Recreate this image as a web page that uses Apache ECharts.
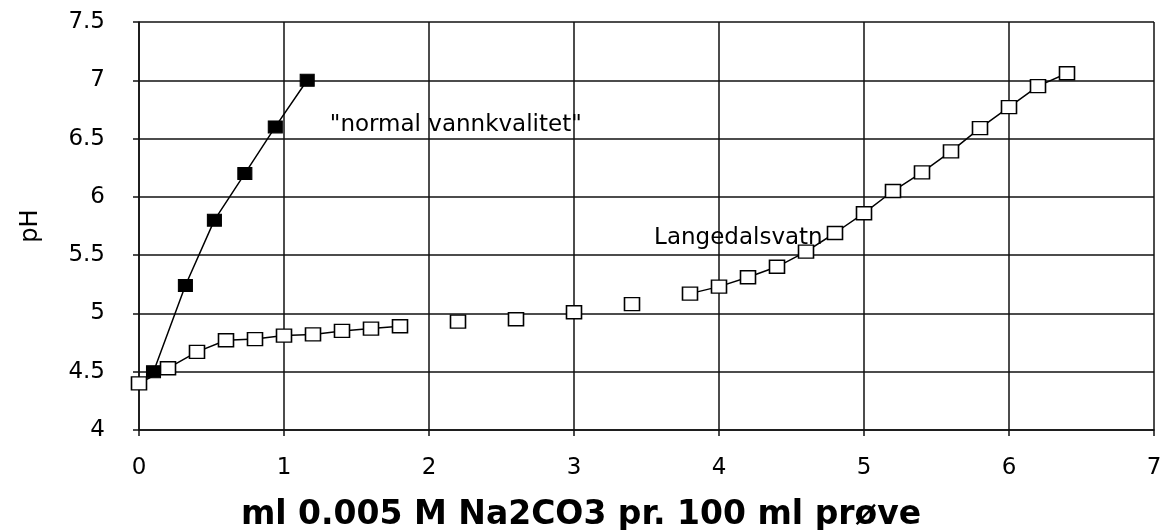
<!DOCTYPE html>
<html>
<head>
<meta charset="utf-8">
<script src="https://cdn.jsdelivr.net/npm/echarts@6/dist/echarts.min.js"></script>
<style>
  html, body { margin: 0; padding: 0; background: #fff; }
  #chart { width: 1162px; height: 530px; }
</style>
</head>
<body>
<div id="chart"></div>
<script>
// Langedalsvatn titration (open squares)
var langX = [0, 0.2, 0.4, 0.6, 0.8, 1.0, 1.2, 1.4, 1.6, 1.8, 2.2, 2.6, 3.0, 3.4, 3.8, 4.0, 4.2, 4.4, 4.6, 4.8, 5.0, 5.2, 5.4, 5.6, 5.8, 6.0, 6.2, 6.4];
var langY = [4.40, 4.53, 4.67, 4.77, 4.78, 4.81, 4.82, 4.85, 4.87, 4.89, 4.93, 4.95, 5.01, 5.08, 5.17, 5.23, 5.31, 5.40, 5.53, 5.69, 5.86, 6.05, 6.21, 6.39, 6.59, 6.77, 6.95, 7.06];
// 1 = joined to the previous point with a line, 0 = no line
var langJoin = [0, 1, 1, 1, 1, 1, 1, 1, 1, 1, 0, 0, 0, 0, 0, 1, 1, 1, 1, 1, 1, 1, 1, 1, 1, 1, 1, 1];

// "normal vannkvalitet" (filled squares)
var normX = [0.1, 0.32, 0.52, 0.73, 0.94, 1.16];
var normY = [4.50, 5.24, 5.80, 6.20, 6.60, 7.00];

var xTicks = [0, 7, 1];
var yTicks = [4, 7.5, 0.5];

var font = "'DejaVu Sans', Arial, sans-serif";

function langData() {
    var out = [];
    for (var i = 0; i < langX.length; i++) {
        if (i > 0 && !langJoin[i]) {
            out.push([(langX[i] + langX[i - 1]) / 2, null]);
        }
        var item = { value: [langX[i], langY[i]] };
        if (langX[i] == 4.8) {
            item.label = {
                show: true, position: 'left', distance: 4, offset: [0, 5],
                formatter: 'Langedalsvatn', color: '#000', fontSize: 23, fontFamily: font
            };
        }
        out.push(item);
    }
    return out;
}

function normData() {
    var out = [];
    for (var i = 0; i < normX.length; i++) {
        var item = { value: [normX[i], normY[i]] };
        if (i == 4) {
            item.label = {
                show: true, position: 'right', distance: 47, offset: [0, -2],
                formatter: '"normal vannkvalitet"', color: '#000', fontSize: 23, fontFamily: font
            };
        }
        out.push(item);
    }
    return out;
}

var gridLine = { show: true, lineStyle: { color: '#111', width: 1.5 } };

var options = {
    backgroundColor: '#fff',
    animation: false,
    title: {
        text: 'ml 0.005 M Na2CO3 pr. 100 ml prøve',
        left: 'center', top: 494,
        textStyle: { color: '#000', fontSize: 33, fontWeight: 'bold', fontFamily: font }
    },
    grid: { left: 139, right: 8, top: 22, bottom: 100, containLabel: false, outerBoundsMode: 'none' },
    xAxis: {
        type: 'value',
        min: xTicks[0], max: xTicks[1], interval: xTicks[2],
        axisLine: { show: true, lineStyle: { color: '#111', width: 1.5 } },
        axisTick: { show: true, length: 6, lineStyle: { color: '#111', width: 1.5 } },
        axisLabel: { color: '#000', fontSize: 23, margin: 27, fontFamily: font },
        splitLine: gridLine
    },
    yAxis: {
        type: 'value',
        min: yTicks[0], max: yTicks[1], interval: yTicks[2],
        name: 'pH',
        nameLocation: 'middle', nameGap: 96, nameRotate: 90,
        nameTextStyle: { color: '#000', fontSize: 24, fontFamily: font },
        axisLine: { show: true, lineStyle: { color: '#111', width: 1.5 } },
        axisTick: { show: true, length: 6, lineStyle: { color: '#111', width: 1.5 } },
        axisLabel: { color: '#000', fontSize: 23, margin: 34, fontFamily: font },
        splitLine: gridLine
    },
    series: [
        {
            name: 'Langedalsvatn',
            type: 'line',
            data: langData(),
            connectNulls: false,
            symbol: 'rect',
            symbolSize: [15, 13],
            itemStyle: { color: '#fff', borderColor: '#000', borderWidth: 1.5 },
            lineStyle: { color: '#000', width: 1.5 },
            z: 3
        },
        {
            name: 'normal vannkvalitet',
            type: 'line',
            data: normData(),
            symbol: 'rect',
            symbolSize: [14, 12],
            itemStyle: { color: '#000', borderColor: '#000', borderWidth: 1 },
            lineStyle: { color: '#000', width: 1.5 },
            z: 4
        }
    ]
};

var myChart = echarts.init(document.getElementById('chart'));
myChart.setOption(options);
</script>
</body>
</html>
